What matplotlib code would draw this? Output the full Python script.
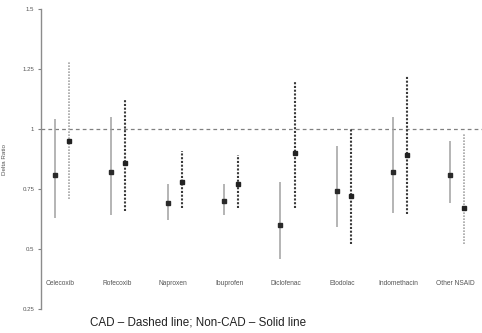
import matplotlib
matplotlib.use("Agg")
import matplotlib.pyplot as plt
import numpy as np

plt.rcParams["font.family"] = ["Liberation Sans", "DejaVu Sans"]

drugs = ["Celecoxib", "Rofecoxib", "Naproxen", "Ibuprofen", "Diclofenac",
         "Etodolac", "Indomethacin", "Other NSAID"]

# Non-CAD (solid line): point estimate, lower and upper limits
noncad_est = [0.81, 0.82, 0.69, 0.70, 0.60, 0.74, 0.82, 0.81]
noncad_lo = [0.63, 0.64, 0.62, 0.64, 0.46, 0.59, 0.65, 0.69]
noncad_hi = [1.04, 1.05, 0.77, 0.77, 0.78, 0.93, 1.05, 0.95]

# CAD (dashed line): point estimate, lower and upper limits
cad_est = [0.95, 0.86, 0.78, 0.77, 0.90, 0.72, 0.89, 0.67]
cad_lo = [0.71, 0.66, 0.67, 0.67, 0.67, 0.52, 0.645, 0.52]
cad_hi = [1.285, 1.12, 0.91, 0.89, 1.20, 1.00, 1.22, 0.985]

yticks = [0.25, 0.5, 0.75, 1.0, 1.25, 1.5]
yticklabels = ["0.25", "0.5", "0.75", "1", "1.25", "1.5"]

fig = plt.figure(figsize=(4.82, 3.33), dpi=100)
ax = fig.add_axes([0.0842, 0.072, 0.9158, 0.901])

x = np.arange(len(drugs))
off = 0.125

# reference line at ratio 1
ax.axhline(1.0, color="#808080", lw=0.9, ls=(0, (3, 2.5)), zorder=1)

for i in range(len(drugs)):
    xs = x[i] - off
    ax.plot([xs, xs], [noncad_lo[i], noncad_hi[i]], color="#a0a0a0", lw=1.1,
            solid_capstyle="butt", zorder=2)
    ax.plot(xs, noncad_est[i], marker="s", ms=2.4, color="#2a2a2a", zorder=3)

    xd = x[i] + off
    light = i in (0, len(drugs) - 1)
    col = "#a5a5a5" if light else "#3a3a3a"
    lw = 1.2 if light else 1.5
    ax.plot([xd, xd], [cad_lo[i], cad_hi[i]], color=col, lw=lw,
            ls=(0, (1.0, 0.8)), zorder=2)
    ax.plot(xd, cad_est[i], marker="s", ms=2.4, color="#222222", zorder=3)

    ax.text(x[i] - 0.03, 0.356, drugs[i], ha="center", va="center",
            fontsize=4.8, color="#555555")

ax.set_xlim(-0.38, 7.45)
ax.set_ylim(0.25, 1.5)
ax.set_yticks(yticks)
ax.set_yticklabels(yticklabels)
ax.tick_params(axis="y", labelsize=4.4, labelcolor="#555555", colors="#808080",
               length=2.5, width=0.8, pad=2)
ax.set_xticks([])
for s in ("top", "right", "bottom"):
    ax.spines[s].set_visible(False)
ax.spines["left"].set_color("#8c8c8c")
ax.spines["left"].set_linewidth(1.0)

ax.set_ylabel("Delta Ratio", fontsize=4.5, color="#555555", labelpad=11)

fig.text(0.187, 0.031, "CAD \u2013 Dashed line; Non-CAD \u2013 Solid line",
         fontsize=8.4, color="#222222", ha="left", va="center")

fig.savefig("out.png", dpi=100)
